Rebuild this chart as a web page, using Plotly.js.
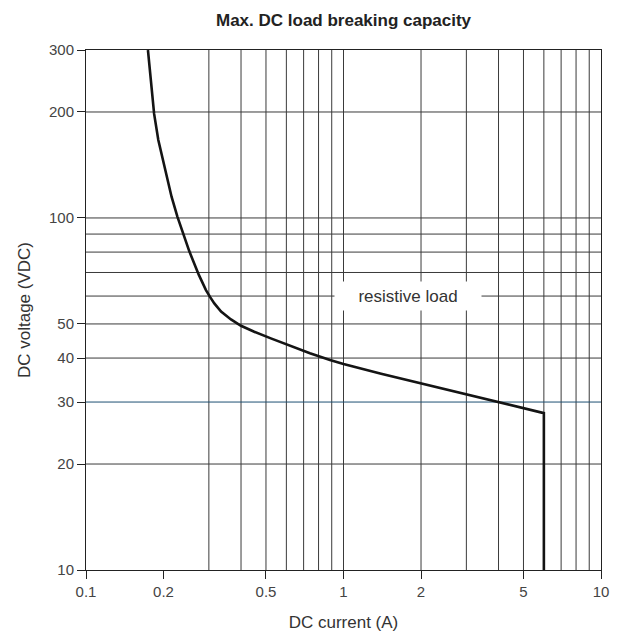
<!DOCTYPE html>
<html>
<head>
<meta charset="utf-8">
<script src="https://cdn.plot.ly/plotly-3.0.1.min.js"></script>
<style>html,body{margin:0;padding:0;background:#fff;}#chart{width:619px;height:633px;}</style>
</head>
<body>
<div id="chart"></div>
<script>
// Curve (DC current A, DC voltage V)
var currentA = [0.174, 0.1773, 0.1839, 0.1909, 0.2038, 0.2149, 0.2264, 0.2383, 0.2519, 0.2743, 0.2923, 0.304, 0.315, 0.3346, 0.3656, 0.3999, 0.4501, 0.5223, 0.6192, 0.7408, 0.8862, 1.0, 1.4, 2, 3, 4, 6, 6];
var voltageV = [300, 257.7, 197.5, 166.6, 134.0, 114.9, 100.9, 90.0, 80.4, 68.9, 62.4, 59.5, 57.2, 54.2, 51.5, 49.4, 47.5, 45.5, 43.3, 41.3, 39.5, 38.5, 36.1, 33.9, 31.6, 30, 27.9, 10];

// Grid lines and tick labels
var xGrid = [0.3, 0.4, 0.5, 0.6, 0.7, 0.8, 0.9, 1, 2, 3, 4, 5, 6, 7, 8, 9];
var yGrid = [20, 30, 40, 50, 60, 70, 80, 90, 100, 200];
var xTicks = [0.1, 0.2, 0.5, 1, 2, 5, 10];
var xTickText = ['0.1', '0.2', '0.5', '1', '2', '5', '10'];
var yTicks = [10, 20, 30, 40, 50, 100, 200, 300];
var yTickText = ['10', '20', '30', '40', '50', '100', '200', '300'];
var labelText = 'resistive load';
var labelAt = [1.78, 60];

var gridColor = '#3a3a3a';
var blueLine = 30;

var shapes = [];
xGrid.forEach(function (v) {
  shapes.push({type: 'line', layer: 'below', xref: 'x', yref: 'paper', x0: v, x1: v, y0: 0, y1: 1,
    line: {color: gridColor, width: 1}});
});
yGrid.forEach(function (v) {
  shapes.push({type: 'line', layer: 'below', xref: 'paper', yref: 'y', x0: 0, x1: 1, y0: v, y1: v,
    line: {color: v === blueLine ? '#1d4f73' : gridColor, width: 1}});
});

var font = 'Liberation Sans, Arial, Helvetica, sans-serif';

var data = [{
  type: 'scatter', mode: 'lines', x: currentA, y: voltageV,
  line: {color: '#141414', width: 2.6},
  hoverinfo: 'skip', showlegend: false
}];

var layout = {
  width: 619, height: 633,
  margin: {l: 86, r: 18, t: 50, b: 63},
  paper_bgcolor: '#fff', plot_bgcolor: '#fff',
  font: {family: font, color: '#333', size: 15},
  title: {text: '<b>Max. DC load breaking capacity</b>', x: 0.555, xanchor: 'center', y: 0.968, yanchor: 'middle',
    font: {family: font, size: 17, color: '#222'}},
  xaxis: {
    type: 'log', range: [-1, 1],
    tickmode: 'array', tickvals: xTicks, ticktext: xTickText,
    ticks: 'outside', ticklen: 8, tickcolor: '#222', tickwidth: 1,
    showgrid: false, zeroline: false,
    showline: true, mirror: true, linecolor: '#222', linewidth: 1,
    tickfont: {size: 15, color: '#444'},
    title: {text: 'DC current (A)', font: {size: 17, color: '#333'}, standoff: 17}
  },
  yaxis: {
    type: 'log', range: [1, Math.log10(300)],
    tickmode: 'array', tickvals: yTicks, ticktext: yTickText,
    ticks: 'outside', ticklen: 8, tickcolor: '#222', tickwidth: 1,
    showgrid: false, zeroline: false,
    showline: true, mirror: true, linecolor: '#222', linewidth: 1,
    tickfont: {size: 15, color: '#444'},
    title: {text: 'DC voltage (VDC)', font: {size: 17, color: '#333'}, standoff: 14}
  },
  shapes: shapes,
  annotations: [{
    xref: 'x', yref: 'y', x: Math.log10(labelAt[0]), y: Math.log10(labelAt[1]),
    text: labelText, showarrow: false, bgcolor: '#fff', width: 144, height: 26,
    font: {family: font, size: 17, color: '#333'}
  }]
};

Plotly.newPlot('chart', data, layout, {displayModeBar: false, staticPlot: true});
</script>
</body>
</html>
